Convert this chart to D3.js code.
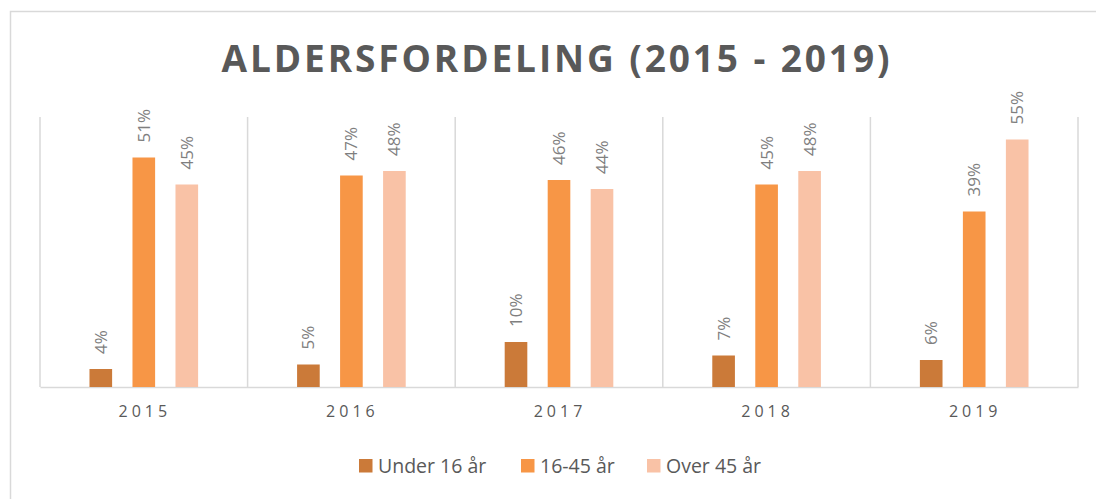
<!DOCTYPE html>
<html><head><meta charset="utf-8">
<script src="https://cdn.jsdelivr.net/npm/d3@7"></script>
<style>body{margin:0;background:#fff;} svg{display:block;}</style>
</head><body>
<svg id="c" width="1096" height="499"></svg>
<script>
const years = ["2015","2016","2017","2018","2019"];
const seriesNames = ["Under 16 år","16-45 år","Over 45 år"];
const under16 = [4,5,10,7,6];
const age16to45 = [51,47,46,45,39];
const over45 = [45,48,44,48,55];
const colors = ["#CB7A39","#F79646","#F9C2A6"];
const title = "ALDERSFORDELING (2015 - 2019)";

const values = [under16, age16to45, over45];
const svg = d3.select("#c");
const font = "'Open Sans', 'Noto Sans', sans-serif";

svg.append("rect").attr("x",10.5).attr("y",11.5).attr("width",1100).attr("height",520)
  .attr("fill","#fff").attr("stroke","#d9d9d9").attr("stroke-width",1.5);

const L=40,R=1078,T=117,B=387;
const x = d3.scaleBand().domain(years).range([L,R]).paddingInner(0).paddingOuter(0);
const y = d3.scaleLinear().domain([0,60]).range([B,T]);
const barW = x.bandwidth()*0.109;
const step = 43;

// separators
const g = svg.append("g");
[L,...years.map(d=>x(d)+x.bandwidth())].forEach(v=>{
  g.append("line").attr("x1",v).attr("x2",v).attr("y1",T).attr("y2",B)
   .attr("stroke","#d9d9d9").attr("stroke-width",1.5);
});

// x axis
const xAxis = svg.append("g").attr("transform",`translate(0,${B})`).call(d3.axisBottom(x).tickSize(0).tickPadding(19));
xAxis.select(".domain").attr("stroke","#d9d9d9").attr("stroke-width",1.5);
xAxis.selectAll("text").attr("font-family",font).attr("font-size",16).attr("fill","#595959")
  .attr("letter-spacing","4px").attr("dx","1");

values.forEach((vals,si)=>{
  const off = (si-1)*step;
  const gs = svg.append("g");
  gs.selectAll("rect").data(vals).join("rect")
    .attr("x",(d,i)=>x(years[i])+x.bandwidth()/2+off-barW/2)
    .attr("y",d=>y(d)).attr("width",barW).attr("height",d=>B-y(d))
    .attr("fill",colors[si]);
  gs.selectAll("text").data(vals).join("text")
    .attr("transform",(d,i)=>`translate(${x(years[i])+x.bandwidth()/2+off+6},${y(d)-15}) rotate(-90)`)
    .attr("font-family",font).attr("font-size",17).attr("fill","#7f7f7f")
    .text(d=>d+"%");
});

// title
svg.append("text").attr("x",557).attr("y",72).attr("text-anchor","middle")
  .attr("font-family",font).attr("font-weight","bold").attr("font-size",37)
  .attr("fill","#595959").attr("letter-spacing","3px")
  .attr("textLength",671).attr("lengthAdjust","spacing").text(title);

// legend
const legX = [359,521,647];
const leg = svg.append("g");
seriesNames.forEach((n,i)=>{
  leg.append("rect").attr("x",legX[i]).attr("y",459).attr("width",13.5).attr("height",13.5).attr("fill",colors[i]);
  leg.append("text").attr("x",legX[i]+19).attr("y",473).attr("font-family",font)
    .attr("font-size",19.5).attr("fill","#595959").text(n);
});
</script>
</body></html>
